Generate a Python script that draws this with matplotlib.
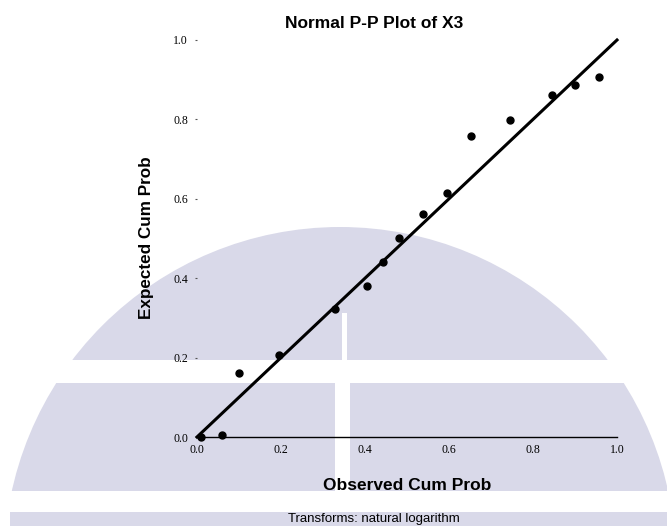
import numpy as np
import matplotlib.pyplot as plt
from matplotlib.patches import Circle, Rectangle

# observed vs expected cumulative probabilities
observed = [0.01, 0.06, 0.10, 0.195, 0.329, 0.405, 0.443, 0.481, 0.538,
            0.595, 0.652, 0.745, 0.845, 0.900, 0.957]
expected = [0.0, 0.005, 0.161, 0.207, 0.322, 0.380, 0.441, 0.501, 0.562,
            0.615, 0.758, 0.798, 0.861, 0.887, 0.907]
ref_line = [0.0, 1.0]
ticks = [0.0, 0.2, 0.4, 0.6, 0.8, 1.0]
tick_labels = ['0.0', '0.2', '0.4', '0.6', '0.8', '1.0']

W, H = 667, 526
fig = plt.figure(figsize=(W / 100, H / 100), dpi=100)

# lavender backdrop, in pixel coordinates
lav = '#d9d9e9'
bg = fig.add_axes([0, 0, 1, 1], zorder=0)
bg.set_xlim(0, W)
bg.set_ylim(H, 0)
bg.axis('off')
bg.add_patch(Circle((340, 563), 336, color=lav, lw=0))
bg.add_patch(Rectangle((0, 0), W, 227, color='white', lw=0))
bg.add_patch(Rectangle((0, 360), W, 23, color='white', lw=0))
bg.add_patch(Rectangle((342, 313), 5, 47, color='white', lw=0))
bg.add_patch(Rectangle((335, 383), 15, 108, color='white', lw=0))
bg.add_patch(Rectangle((0, 491), W, 21, color='white', lw=0))
bg.add_patch(Rectangle((0, 512), W, 14, color='white', lw=0))
bg.add_patch(Rectangle((10, 512), W - 10, 14, color=lav, lw=0))

ax = fig.add_axes([197 / W, 89 / H, 420 / W, 397 / H], zorder=1)
ax.patch.set_alpha(0)
ax.set_xlim(0, 1)
ax.set_ylim(0, 1)

ax.plot(ref_line, ref_line, color='black', lw=2.2, clip_on=False)
ax.plot(observed, expected, 'o', color='black', ms=5, clip_on=False)

for s in ['top', 'right', 'left']:
    ax.spines[s].set_visible(False)
ax.spines['bottom'].set_linewidth(1.0)

ax.set_xticks(ticks)
ax.set_xticklabels(tick_labels, family='Liberation Serif', fontsize=8.5)
ax.set_yticks(ticks)
ax.set_yticklabels(tick_labels, family='Liberation Serif', fontsize=8.5)
ax.tick_params(axis='x', length=0, pad=5)
ax.tick_params(axis='y', length=1.5, width=0.8, color='#555555', pad=5)

fig.text(374 / W, 1 - 23 / H, 'Normal P-P Plot of X3', ha='center', va='center',
         family='Liberation Sans', weight='bold', fontsize=12.5)
fig.text(407 / W, 1 - 486 / H, 'Observed Cum Prob', ha='center', va='center',
         family='Liberation Sans', weight='bold', fontsize=12.5)
fig.text(147 / W, 1 - 238 / H, 'Expected Cum Prob', ha='center', va='center',
         rotation=90, family='Liberation Sans', weight='bold', fontsize=12.3)
fig.text(374 / W, 1 - 519 / H, 'Transforms: natural logarithm', ha='center',
         va='center', family='Liberation Sans', fontsize=9.5)

fig.savefig('out.png', dpi=100)
